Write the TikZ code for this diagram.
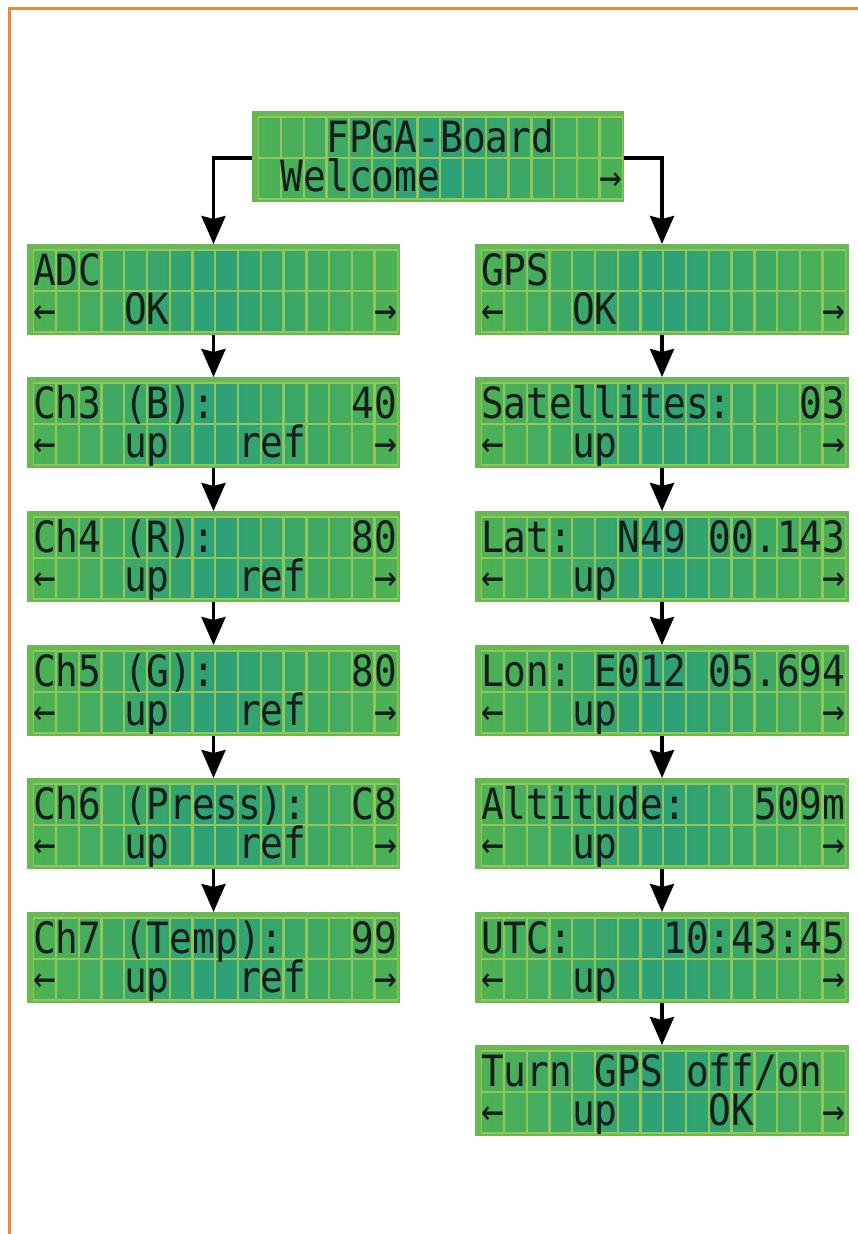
\documentclass[tikz,border=0pt]{standalone}
\usepackage{fontspec}
\usepackage{graphicx}
\usetikzlibrary{arrows.meta}
\newfontfamily\lcdfont{DejaVu Sans Mono}
\definecolor{frameorange}{RGB}{245,134,52}
\definecolor{lcdEdge}{RGB}{104,184,84}
\definecolor{lcdA}{RGB}{78,178,84}
\definecolor{lcdB}{RGB}{44,160,120}
\definecolor{lcdGrid}{RGB}{145,198,88}
\definecolor{lcdInk}{RGB}{22,30,28}
\tikzset{
  lcd/.style={fill=lcdEdge, draw=none, minimum height=91pt, inner sep=0pt, outer sep=0pt},
  lcdgrid/.style={draw=lcdGrid, line width=2.4pt},
  lcdtxt/.style={inner sep=0pt, outer sep=0pt, text=lcdInk, font=\lcdfont\fontsize{37.8}{40}\selectfont},
  conn/.style={draw=black, line width=3.5pt, -{Stealth[width=24pt,length=28pt,inset=3pt]}},
  frame/.style={draw=frameorange, line width=3.5pt}
}
\newcommand\lcdscreen[6]{%
  \node[lcd, minimum width=#4pt, anchor=north west] (#1) at (#2,#3) {};
  \fill[left color=lcdA, right color=lcdA, middle color=lcdB]
    ([xshift=6.2pt,yshift=-6pt]#1.north west) rectangle ++(364.2pt,-82pt);
  \foreach \i in {1,...,15}
    \draw[lcdgrid] ([xshift={6.2pt+\i*22.76pt},yshift=-6pt]#1.north west) -- ++(0pt,-82pt);
  \draw[lcdgrid] ([xshift=6.2pt,yshift=-47pt]#1.north west) -- ++(364.2pt,0pt);
  \draw[lcdgrid, line width=1.4pt] ([xshift=6.2pt,yshift=-6pt]#1.north west) rectangle ++(364.2pt,-82pt);
  \node[lcdtxt, anchor=base west] (#1-a) at ([xshift=6.2pt,yshift=-41pt]#1.north west) {\scalebox{1}[1.14]{#5}};
  \node[lcdtxt, anchor=base west] (#1-b) at ([xshift=6.2pt,yshift=-80pt]#1.north west) {\scalebox{1}[1.14]{#6}};
}
\begin{document}
\begin{tikzpicture}[x=1pt,y=-1pt]
\useasboundingbox (0,0) rectangle (858,1234);
\fill[white] (0,0) rectangle (858,1234);
% frame
\draw[frame] (9.5,1234) -- (9.5,8.5) -- (858,8.5);
% top screen
\lcdscreen{top}{252}{111}{372}{~~~FPGA-Board}{~Welcome~~~~~~~→}
% ADC column
\lcdscreen{adc}{27}{244}{373}{ADC}{←~~~OK~~~~~~~~~→}
\lcdscreen{ch3}{27}{377}{373}{Ch3~(B):~~~~~~40}{←~~~up~~~ref~~~→}
\lcdscreen{ch4}{27}{511}{373}{Ch4~(R):~~~~~~80}{←~~~up~~~ref~~~→}
\lcdscreen{ch5}{27}{645}{373}{Ch5~(G):~~~~~~80}{←~~~up~~~ref~~~→}
\lcdscreen{ch6}{27}{778}{373}{Ch6~(Press):~~C8}{←~~~up~~~ref~~~→}
\lcdscreen{ch7}{27}{912}{373}{Ch7~(Temp):~~~99}{←~~~up~~~ref~~~→}
% GPS column
\lcdscreen{gps}{475}{244}{374}{GPS}{←~~~OK~~~~~~~~~→}
\lcdscreen{sat}{475}{377}{374}{Satellites:~~~03}{←~~~up~~~~~~~~~→}
\lcdscreen{lat}{475}{511}{374}{Lat:~~N49~00.143}{←~~~up~~~~~~~~~→}
\lcdscreen{lon}{475}{645}{374}{Lon:~E012~05.694}{←~~~up~~~~~~~~~→}
\lcdscreen{alt}{475}{778}{374}{Altitude:~~~509m}{←~~~up~~~~~~~~~→}
\lcdscreen{utc}{475}{912}{374}{UTC:~~~~10:43:45}{←~~~up~~~~~~~~~→}
\lcdscreen{turn}{475}{1045}{374}{Turn~GPS~off/on~}{←~~~up~~~~OK~~~→}
% connectors
\draw[conn] ([yshift=-1.5pt]top.west) -| (adc.north);
\draw[conn] ([yshift=-1.5pt]top.east) -| (gps.north);
\draw[conn] (adc) -- (ch3);
\draw[conn] (ch3) -- (ch4);
\draw[conn] (ch4) -- (ch5);
\draw[conn] (ch5) -- (ch6);
\draw[conn] (ch6) -- (ch7);
\draw[conn] (gps) -- (sat);
\draw[conn] (sat) -- (lat);
\draw[conn] (lat) -- (lon);
\draw[conn] (lon) -- (alt);
\draw[conn] (alt) -- (utc);
\draw[conn] (utc) -- (turn);
\end{tikzpicture}
\end{document}
